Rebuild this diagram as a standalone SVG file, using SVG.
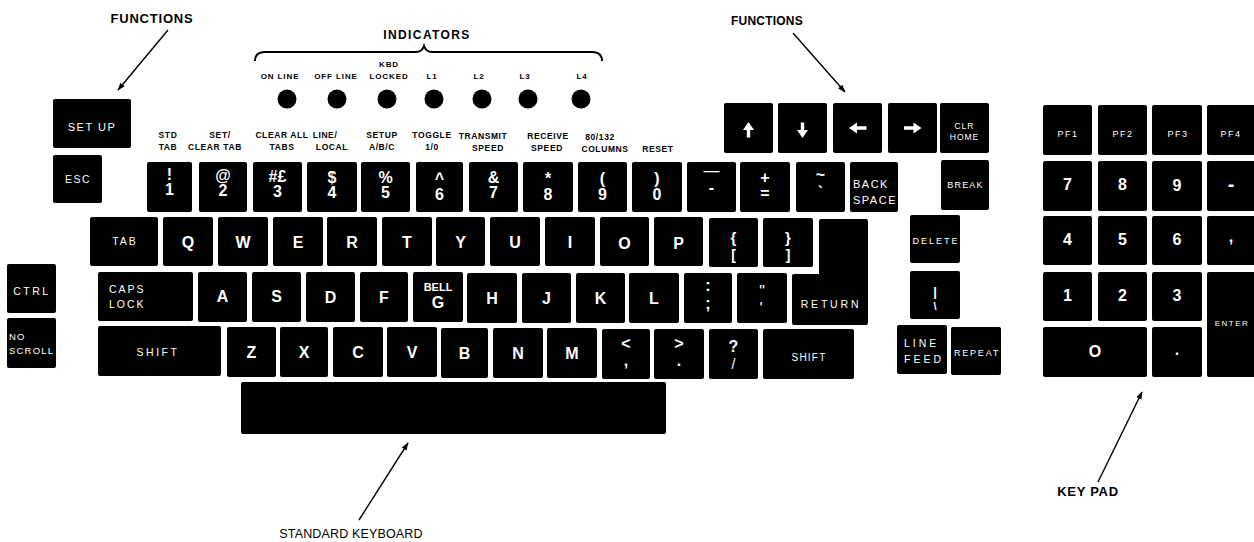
<svg xmlns="http://www.w3.org/2000/svg" width="1254" height="542" viewBox="0 0 1254 542">
<defs>
<style>
rect.k,path.k{fill:#000}
text{font-family:"Liberation Sans",Arial,Helvetica,sans-serif}
.L{fill:#fff;font-weight:bold;font-size:16px;text-anchor:middle}
.S{fill:#fff;font-size:10.5px;letter-spacing:1.5px;text-anchor:middle}
.Sl{fill:#fff;font-size:10.5px;letter-spacing:2px}
.F{fill:#000;font-weight:bold;font-size:8.5px;letter-spacing:0.6px;text-anchor:middle}
.I{fill:#000;font-weight:bold;font-size:8px;letter-spacing:0.9px;text-anchor:middle}
.C{fill:#000;font-weight:bold;font-size:12px;letter-spacing:1px;text-anchor:middle}
.led{fill:#000}
.ar{fill:#fff}
.cn{stroke:#000;stroke-width:1.4;fill:none;marker-end:url(#ah)}
</style>
<marker id="ah" viewBox="0 0 10 10" refX="9" refY="5" markerWidth="8" markerHeight="8" orient="auto" markerUnits="userSpaceOnUse">
<path d="M0,1.5 L10,5 L0,8.5 Z" fill="#000"/>
</marker>
</defs>
<rect width="1254" height="542" fill="#fff"/>

<!-- captions -->
<g id="cap-functions-left"><text class="C" x="152" y="23" style="font-size:13px;letter-spacing:0.8px">FUNCTIONS</text></g>
<g id="cap-functions-right"><text class="C" x="767" y="25" style="letter-spacing:0.2px">FUNCTIONS</text></g>
<g id="cap-indicators">
<text class="C" x="427" y="39" style="letter-spacing:1.4px">INDICATORS</text>
<path d="M255,61 Q255,52 265,52 L416,52 Q422,52 424,46 Q426,52 432,52 L592,52 Q602,52 602,61" fill="none" stroke="#000" stroke-width="2"/>
</g>
<g id="cap-standard"><text x="351" y="538" style="font-size:12.5px;text-anchor:middle;letter-spacing:0.15px;fill:#000">STANDARD KEYBOARD</text></g>
<g id="cap-keypad"><text class="C" x="1088" y="496" style="font-size:13px;letter-spacing:0.7px">KEY PAD</text></g>

<!-- indicators -->
<g id="ind-online"><text class="I" x="280" y="79">ON LINE</text><circle class="led" cx="287" cy="99" r="9.5"/></g>
<g id="ind-offline"><text class="I" x="336" y="79">OFF LINE</text><circle class="led" cx="337" cy="99" r="9.5"/></g>
<g id="ind-kbdlocked"><text class="I" x="389" y="67">KBD</text><text class="I" x="389" y="79">LOCKED</text><circle class="led" cx="387" cy="99" r="9.5"/></g>
<g id="ind-l1"><text class="I" x="432" y="79">L1</text><circle class="led" cx="434" cy="99" r="9.5"/></g>
<g id="ind-l2"><text class="I" x="479" y="79">L2</text><circle class="led" cx="482" cy="99" r="9.5"/></g>
<g id="ind-l3"><text class="I" x="525" y="79">L3</text><circle class="led" cx="528" cy="99" r="9.5"/></g>
<g id="ind-l4"><text class="I" x="582" y="79">L4</text><circle class="led" cx="581" cy="99" r="9.5"/></g>

<!-- function labels above number row -->
<g id="fl-stdtab"><text class="F" x="168" y="138">STD</text><text class="F" x="168" y="149.5">TAB</text></g>
<g id="fl-setclear"><text class="F" x="220" y="138">SET/</text><text class="F" x="215" y="149.5">CLEAR TAB</text></g>
<g id="fl-clearall"><text class="F" x="282" y="138">CLEAR ALL</text><text class="F" x="282" y="149.5">TABS</text></g>
<g id="fl-line"><text class="F" x="325" y="138">LINE/</text><text class="F" x="332" y="149.5">LOCAL</text></g>
<g id="fl-setup"><text class="F" x="382" y="138">SETUP</text><text class="F" x="382" y="149.5">A/B/C</text></g>
<g id="fl-toggle"><text class="F" x="432" y="138">TOGGLE</text><text class="F" x="432" y="149.5">1/0</text></g>
<g id="fl-transmit"><text class="F" x="483" y="139">TRANSMIT</text><text class="F" x="488" y="151">SPEED</text></g>
<g id="fl-receive"><text class="F" x="548" y="139">RECEIVE</text><text class="F" x="547" y="151">SPEED</text></g>
<g id="fl-columns"><text class="F" x="600" y="140">80/132</text><text class="F" x="605" y="152">COLUMNS</text></g>
<g id="fl-reset"><text class="F" x="658" y="152">RESET</text></g>

<!-- left function keys -->
<g id="k-setup"><rect class="k" x="53" y="99" width="78" height="49" rx="2"/><text class="S" x="92" y="131" style="font-size:11px">SET UP</text></g>
<g id="k-esc"><rect class="k" x="53" y="155" width="49" height="48" rx="2"/><text class="S" x="78" y="183">ESC</text></g>
<g id="k-ctrl"><rect class="k" x="7" y="264" width="49" height="49" rx="2"/><text class="S" x="32" y="295" style="letter-spacing:2.5px">CTRL</text></g>
<g id="k-noscroll"><rect class="k" x="7" y="318" width="49" height="50" rx="2"/><text class="Sl" x="9" y="340" style="font-size:9.5px;letter-spacing:1.2px">NO</text><text class="Sl" x="9" y="354" style="font-size:9.5px;letter-spacing:1.2px">SCROLL</text></g>

<!-- number row -->
<g id="k-1"><rect class="k" x="147" y="162" width="45" height="50" rx="2"/><text class="L" x="169.5" y="180">!</text><text class="L" x="169.5" y="195">1</text></g>
<g id="k-2"><rect class="k" x="199" y="162" width="48" height="50" rx="2"/><text class="L" x="223" y="181">@</text><text class="L" x="223" y="196">2</text></g>
<g id="k-3"><rect class="k" x="253" y="162" width="49" height="50" rx="2"/><text class="L" x="277.5" y="182">#£</text><text class="L" x="277.5" y="197">3</text></g>
<g id="k-4"><rect class="k" x="307" y="162" width="50" height="50" rx="2"/><text class="L" x="332" y="183">$</text><text class="L" x="332" y="198">4</text></g>
<g id="k-5"><rect class="k" x="361" y="162" width="49" height="50" rx="2"/><text class="L" x="385.5" y="183">%</text><text class="L" x="385.5" y="198">5</text></g>
<g id="k-6"><rect class="k" x="416" y="162" width="47" height="50" rx="2"/><text class="L" x="439.5" y="184">^</text><text class="L" x="439.5" y="200">6</text></g>
<g id="k-7"><rect class="k" x="469" y="162" width="49" height="50" rx="2"/><text class="L" x="493.5" y="183">&amp;</text><text class="L" x="493.5" y="198">7</text></g>
<g id="k-8"><rect class="k" x="523" y="162" width="50" height="50" rx="2"/><text class="L" x="548" y="184">*</text><text class="L" x="548" y="200">8</text></g>
<g id="k-9"><rect class="k" x="578" y="162" width="49" height="50" rx="2"/><text class="L" x="602.5" y="184">(</text><text class="L" x="602.5" y="200">9</text></g>
<g id="k-0"><rect class="k" x="632" y="162" width="50" height="50" rx="2"/><text class="L" x="657" y="184">)</text><text class="L" x="657" y="200">0</text></g>
<g id="k-minus"><rect class="k" x="687" y="162" width="49" height="50" rx="2"/><text class="L" x="711.5" y="176" style="font-weight:normal">—</text><text class="L" x="711.5" y="193">-</text></g>
<g id="k-equal"><rect class="k" x="740" y="162" width="50" height="50" rx="2"/><text class="L" x="765" y="183">+</text><text class="L" x="765" y="199">=</text></g>
<g id="k-grave"><rect class="k" x="796" y="162" width="49" height="50" rx="2"/><text class="L" x="820.5" y="180">~</text><text class="L" x="820.5" y="198">`</text></g>
<g id="k-backspace"><rect class="k" x="850" y="162" width="48" height="50" rx="2"/><text class="Sl" x="853" y="188" style="font-size:11px;letter-spacing:1.5px">BACK</text><text class="Sl" x="853" y="204" style="font-size:11px;letter-spacing:1.5px">SPACE</text></g>

<!-- arrow / function keys -->
<g id="k-up"><rect class="k" x="724" y="103" width="49" height="50" rx="2"/><polygon class="ar" points="748.5,122 754,130 750.2,130 750.2,137.5 746.8,137.5 746.8,130 743,130"/></g>
<g id="k-down"><rect class="k" x="778" y="103" width="49" height="50" rx="2"/><polygon class="ar" points="802.5,138 808,130 804.2,130 804.2,122.5 800.8,122.5 800.8,130 797,130"/></g>
<g id="k-left"><rect class="k" x="833" y="103" width="49" height="50" rx="2"/><polygon class="ar" points="849,128 857,122.5 857,126.3 866.5,126.3 866.5,129.7 857,129.7 857,133.5"/></g>
<g id="k-right"><rect class="k" x="888" y="103" width="49" height="50" rx="2"/><polygon class="ar" points="921.5,128 913.5,122.5 913.5,126.3 904,126.3 904,129.7 913.5,129.7 913.5,133.5"/></g>
<g id="k-clrhome"><rect class="k" x="940" y="103" width="49" height="50" rx="2"/><text class="S" x="964.5" y="129" style="font-size:8.5px;letter-spacing:1px">CLR</text><text class="S" x="964.5" y="140" style="font-size:8.5px;letter-spacing:1px">HOME</text></g>
<g id="k-break"><rect class="k" x="941" y="160" width="48" height="50" rx="2"/><text class="S" x="965.5" y="188" style="font-size:9px;letter-spacing:1.2px">BREAK</text></g>

<!-- QWERTY row -->
<g id="k-tab"><rect class="k" x="90" y="217" width="68" height="49" rx="2"/><text class="S" x="125" y="245" style="letter-spacing:2px">TAB</text></g>
<g id="k-q"><rect class="k" x="163" y="217" width="50" height="49" rx="2"/><text class="L" x="188" y="248">Q</text></g>
<g id="k-w"><rect class="k" x="218" y="217" width="50" height="49" rx="2"/><text class="L" x="243" y="248">W</text></g>
<g id="k-e"><rect class="k" x="273" y="217" width="50" height="49" rx="2"/><text class="L" x="298" y="248">E</text></g>
<g id="k-r"><rect class="k" x="327" y="217" width="50" height="49" rx="2"/><text class="L" x="352" y="248">R</text></g>
<g id="k-t"><rect class="k" x="382" y="217" width="50" height="49" rx="2"/><text class="L" x="407" y="248">T</text></g>
<g id="k-y"><rect class="k" x="436" y="217" width="49" height="49" rx="2"/><text class="L" x="460.5" y="248">Y</text></g>
<g id="k-u"><rect class="k" x="490" y="217" width="50" height="49" rx="2"/><text class="L" x="515" y="248">U</text></g>
<g id="k-i"><rect class="k" x="545" y="217" width="50" height="49" rx="2"/><text class="L" x="570" y="248">I</text></g>
<g id="k-o"><rect class="k" x="600" y="217" width="49" height="49" rx="2"/><text class="L" x="624.5" y="249">O</text></g>
<g id="k-p"><rect class="k" x="654" y="217" width="49" height="49" rx="2"/><text class="L" x="678.5" y="249">P</text></g>
<g id="k-lbrace"><rect class="k" x="709" y="218" width="49" height="49" rx="2"/><text class="L" x="733.5" y="243" style="font-size:15px">{</text><text class="L" x="733.5" y="260" style="font-size:14px">[</text></g>
<g id="k-rbrace"><rect class="k" x="763" y="218" width="50" height="49" rx="2"/><text class="L" x="788" y="243" style="font-size:15px">}</text><text class="L" x="788" y="260" style="font-size:14px">]</text></g>
<g id="k-return"><path class="k" d="M821,219 H866 Q868,219 868,221 V323 Q868,325 866,325 H794 Q792,325 792,323 V276 Q792,274 794,274 H819 V221 Q819,219 821,219 Z"/><text class="S" x="831" y="308" style="letter-spacing:2.8px">RETURN</text></g>
<g id="k-delete"><rect class="k" x="910" y="215" width="50" height="48" rx="2"/><text class="S" x="936" y="244" style="font-size:9px;letter-spacing:2px">DELETE</text></g>

<!-- ASDF row -->
<g id="k-capslock"><rect class="k" x="98" y="272" width="95" height="49" rx="2"/><text class="Sl" x="109" y="293">CAPS</text><text class="Sl" x="109" y="308">LOCK</text></g>
<g id="k-a"><rect class="k" x="198" y="272" width="49" height="50" rx="2"/><text class="L" x="222.5" y="302">A</text></g>
<g id="k-s"><rect class="k" x="252" y="272" width="49" height="50" rx="2"/><text class="L" x="276.5" y="302">S</text></g>
<g id="k-d"><rect class="k" x="306" y="272" width="49" height="50" rx="2"/><text class="L" x="330.5" y="303">D</text></g>
<g id="k-f"><rect class="k" x="360" y="272" width="48" height="50" rx="2"/><text class="L" x="384" y="303">F</text></g>
<g id="k-g"><rect class="k" x="413" y="272" width="50" height="50" rx="2"/><text class="L" x="438" y="291" style="font-size:11px">BELL</text><text class="L" x="438" y="308">G</text></g>
<g id="k-h"><rect class="k" x="467" y="273" width="50" height="50" rx="2"/><text class="L" x="492" y="304">H</text></g>
<g id="k-j"><rect class="k" x="522" y="273" width="49" height="50" rx="2"/><text class="L" x="546.5" y="304">J</text></g>
<g id="k-k"><rect class="k" x="576" y="273" width="49" height="50" rx="2"/><text class="L" x="600.5" y="304">K</text></g>
<g id="k-l"><rect class="k" x="629" y="273" width="50" height="50" rx="2"/><text class="L" x="654" y="304">L</text></g>
<g id="k-semicolon"><rect class="k" x="684" y="273" width="48" height="50" rx="2"/><text class="L" x="708" y="291">:</text><text class="L" x="708" y="309">;</text></g>
<g id="k-quote"><rect class="k" x="737" y="273" width="50" height="50" rx="2"/><text class="L" x="762" y="297" style="font-weight:normal">"</text><text class="L" x="761" y="314" style="font-weight:normal">'</text></g>
<g id="k-backslash"><rect class="k" x="910" y="271" width="50" height="48" rx="2"/><text class="L" x="935" y="296" style="font-size:13px">|</text><text class="L" x="935" y="310" style="font-size:11px">\</text></g>

<!-- ZXCV row -->
<g id="k-shift-left"><rect class="k" x="98" y="326" width="123" height="50" rx="2"/><text class="S" x="158" y="356" style="letter-spacing:2.5px">SHIFT</text></g>
<g id="k-z"><rect class="k" x="227" y="327" width="49" height="50" rx="2"/><text class="L" x="251.5" y="358">Z</text></g>
<g id="k-x"><rect class="k" x="280" y="327" width="48" height="50" rx="2"/><text class="L" x="304" y="358">X</text></g>
<g id="k-c"><rect class="k" x="333" y="327" width="50" height="50" rx="2"/><text class="L" x="358" y="358">C</text></g>
<g id="k-v"><rect class="k" x="387" y="327" width="50" height="50" rx="2"/><text class="L" x="412" y="358">V</text></g>
<g id="k-b"><rect class="k" x="441" y="328" width="47" height="50" rx="2"/><text class="L" x="464.5" y="359">B</text></g>
<g id="k-n"><rect class="k" x="493" y="328" width="50" height="50" rx="2"/><text class="L" x="518" y="359">N</text></g>
<g id="k-m"><rect class="k" x="547" y="328" width="50" height="50" rx="2"/><text class="L" x="572" y="359">M</text></g>
<g id="k-comma"><rect class="k" x="602" y="329" width="48" height="50" rx="2"/><text class="L" x="626" y="349">&lt;</text><text class="L" x="626" y="366">,</text></g>
<g id="k-period"><rect class="k" x="654" y="329" width="50" height="50" rx="2"/><text class="L" x="679" y="349">&gt;</text><text class="L" x="679" y="366">.</text></g>
<g id="k-slash"><rect class="k" x="709" y="329" width="49" height="50" rx="2"/><text class="L" x="733.5" y="352">?</text><text class="L" x="733.5" y="369" style="font-weight:normal;font-size:14px">/</text></g>
<g id="k-shift-right"><rect class="k" x="763" y="329" width="91" height="50" rx="2"/><text class="S" x="809" y="361" style="font-size:10px;letter-spacing:1.2px">SHIFT</text></g>
<g id="k-linefeed"><rect class="k" x="897" y="325" width="50" height="49" rx="2"/><text class="Sl" x="904" y="347" style="letter-spacing:3px">LINE</text><text class="Sl" x="904" y="363" style="letter-spacing:3px">FEED</text></g>
<g id="k-repeat"><rect class="k" x="951" y="327" width="50" height="48" rx="2"/><text class="S" x="977" y="356" style="font-size:9px;letter-spacing:1.8px">REPEAT</text></g>

<!-- space bar -->
<g id="k-space"><rect class="k" x="241" y="382" width="425" height="52" rx="2"/></g>

<!-- keypad -->
<g id="kp-pf1"><rect class="k" x="1043" y="105" width="49" height="50" rx="2"/><text class="S" x="1068" y="137" style="font-size:9px">PF1</text></g>
<g id="kp-pf2"><rect class="k" x="1098" y="105" width="49" height="50" rx="2"/><text class="S" x="1123" y="137" style="font-size:9px">PF2</text></g>
<g id="kp-pf3"><rect class="k" x="1152" y="105" width="50" height="50" rx="2"/><text class="S" x="1178" y="137" style="font-size:9px">PF3</text></g>
<g id="kp-pf4"><rect class="k" x="1207" y="105" width="50" height="50" rx="2"/><text class="S" x="1231" y="137" style="font-size:9px">PF4</text></g>
<g id="kp-7"><rect class="k" x="1043" y="161" width="49" height="50" rx="2"/><text class="L" x="1067.5" y="190">7</text></g>
<g id="kp-8"><rect class="k" x="1098" y="161" width="49" height="50" rx="2"/><text class="L" x="1122.5" y="190">8</text></g>
<g id="kp-9"><rect class="k" x="1152" y="161" width="50" height="50" rx="2"/><text class="L" x="1177" y="191">9</text></g>
<g id="kp-minus"><rect class="k" x="1207" y="161" width="50" height="50" rx="2"/><text class="L" x="1231" y="191" style="font-size:20px">-</text></g>
<g id="kp-4"><rect class="k" x="1043" y="216" width="49" height="49" rx="2"/><text class="L" x="1067.5" y="245">4</text></g>
<g id="kp-5"><rect class="k" x="1098" y="216" width="49" height="49" rx="2"/><text class="L" x="1122.5" y="245">5</text></g>
<g id="kp-6"><rect class="k" x="1152" y="216" width="50" height="49" rx="2"/><text class="L" x="1177" y="245">6</text></g>
<g id="kp-comma"><rect class="k" x="1207" y="216" width="50" height="49" rx="2"/><text class="L" x="1231" y="242">,</text></g>
<g id="kp-1"><rect class="k" x="1043" y="272" width="49" height="49" rx="2"/><text class="L" x="1067.5" y="301">1</text></g>
<g id="kp-2"><rect class="k" x="1098" y="272" width="49" height="49" rx="2"/><text class="L" x="1122.5" y="301">2</text></g>
<g id="kp-3"><rect class="k" x="1152" y="272" width="50" height="49" rx="2"/><text class="L" x="1177" y="301">3</text></g>
<g id="kp-enter"><rect class="k" x="1207" y="272" width="50" height="105" rx="2"/><text class="S" x="1232" y="326" style="font-size:8px;letter-spacing:1.5px">ENTER</text></g>
<g id="kp-0"><rect class="k" x="1043" y="327" width="104" height="50" rx="2"/><text class="L" x="1095" y="357">O</text></g>
<g id="kp-dot"><rect class="k" x="1152" y="327" width="50" height="50" rx="2"/><text class="L" x="1177" y="355">.</text></g>

<!-- connectors -->
<g id="connectors">
<line class="cn" x1="168" y1="30" x2="118" y2="90"/>
<line class="cn" x1="793" y1="33" x2="845" y2="92"/>
<line class="cn" x1="359" y1="520" x2="408" y2="443"/>
<line class="cn" x1="1098" y1="482" x2="1142" y2="392"/>
</g>
</svg>
